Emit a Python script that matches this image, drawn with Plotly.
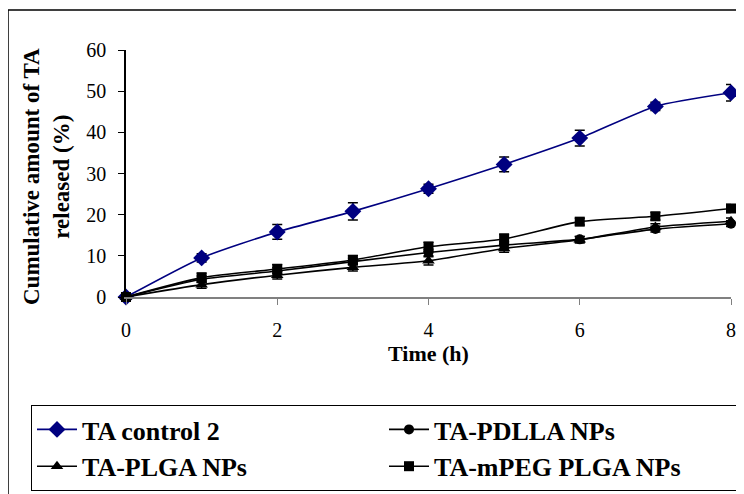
import plotly.graph_objects as go

time_h = [0, 1, 2, 3, 4, 5, 6, 7, 8]

ta_control = [0, 9.5, 15.8, 20.8, 26.3, 32.2, 38.6, 46.3, 49.6]
ta_control_err = [0.4, 1.0, 1.8, 2.1, 1.1, 1.8, 1.9, 1.0, 2.0]

ta_pdlla = [0, 4.3, 6.3, 8.6, 10.8, 12.6, 14.0, 16.5, 17.8]
ta_pdlla_err = [0.3, 0.8, 0.8, 0.8, 0.8, 0.8, 0.7, 0.7, 0.7]

ta_plga = [0, 3.0, 5.3, 7.2, 8.8, 11.8, 13.9, 17.0, 18.4]
ta_plga_err = [0.3, 0.9, 0.9, 0.9, 1.0, 0.9, 0.8, 0.8, 0.8]

ta_mpeg = [0, 4.7, 6.8, 9.0, 12.2, 14.1, 18.3, 19.6, 21.5]
ta_mpeg_err = [0.3, 1.1, 1.1, 1.1, 1.1, 1.2, 0.8, 0.9, 1.0]

series_names = ["TA control 2", "TA-PDLLA NPs", "TA-PLGA NPs", "TA-mPEG PLGA NPs"]
x_ticks = [0, 2, 4, 6, 8]
y_ticks = [0, 10, 20, 30, 40, 50, 60]
x_title = "Time (h)"
y_title = "Cumulative amount of TA<br>released (%)"

OFF = 8  # default page body margin
W, H = 744, 494
# plot area in page pixels: x 126..731, y 50..297
L, T = 126 - OFF, 50 - OFF
R = W - (731 - OFF)
B = H - (297 - OFF)
PW, PH = W - L - R, H - T - B


def px(x):
    return (x - OFF - L) / PW


def py(y):
    return (H - B - (y - OFF)) / PH


SERIF = "Liberation Serif"

fig = go.Figure()


def add(name, y, err, color, symbol, size):
    fig.add_trace(go.Scatter(
        x=time_h, y=y, name=name, mode="lines+markers",
        line=dict(color=color, width=1.6, shape="spline", smoothing=0.6),
        marker=dict(symbol=symbol, size=size, color=color),
        error_y=dict(type="data", array=err, visible=True, color="black",
                     thickness=1.5, width=5),
        cliponaxis=False,
    ))


add(series_names[0], ta_control, ta_control_err, "#000080", "diamond", 13)
add(series_names[1], ta_pdlla, ta_pdlla_err, "black", "circle", 10)
add(series_names[2], ta_plga, ta_plga_err, "black", "triangle-up", 11)
add(series_names[3], ta_mpeg, ta_mpeg_err, "black", "square", 10)

fig.update_layout(
    width=W, height=H,
    margin=dict(l=L, r=R, t=T, b=B, autoexpand=False),
    paper_bgcolor="white", plot_bgcolor="white",
    font=dict(family=SERIF, color="black", size=20),
    showlegend=True,
    legend=dict(
        orientation="h", x=px(31), y=py(405), xanchor="left", yanchor="top",
        bordercolor="black", borderwidth=1, bgcolor="white",
        entrywidth=297, entrywidthmode="pixels",
        font=dict(family=SERIF, size=26, color="black", weight="bold"),
        traceorder="normal", itemwidth=40,
    ),
    xaxis=dict(
        range=[0, 8], tickvals=x_ticks, ticks="outside", ticklen=6,
        tickcolor="#808080", showline=True, linecolor="#808080", linewidth=1.5,
        showgrid=False, zeroline=False, ticklabelstandoff=8,
        tickfont=dict(size=20, family=SERIF),
        title=dict(text="<b>" + x_title + "</b>", font=dict(size=22, family=SERIF), standoff=1),
    ),
    yaxis=dict(
        range=[0, 60], tickvals=y_ticks, ticks="outside", ticklen=6,
        tickcolor="black", showline=True, linecolor="black", linewidth=1.5,
        showgrid=False, zeroline=False, ticklabelstandoff=8,
        tickfont=dict(size=20, family=SERIF),
    ),
    annotations=[dict(
        text="<b>" + y_title + "</b>", textangle=-90, showarrow=False,
        xref="paper", yref="paper", x=px(46), y=py(177),
        xanchor="center", yanchor="middle",
        font=dict(size=23, family=SERIF, color="black"),
    )],
    shapes=[dict(type="rect", xref="paper", yref="paper",
                 x0=px(8), x1=px(800), y0=py(560), y1=py(10),
                 line=dict(color="black", width=1.5), layer="below")],
)

fig.write_html("out.html")
